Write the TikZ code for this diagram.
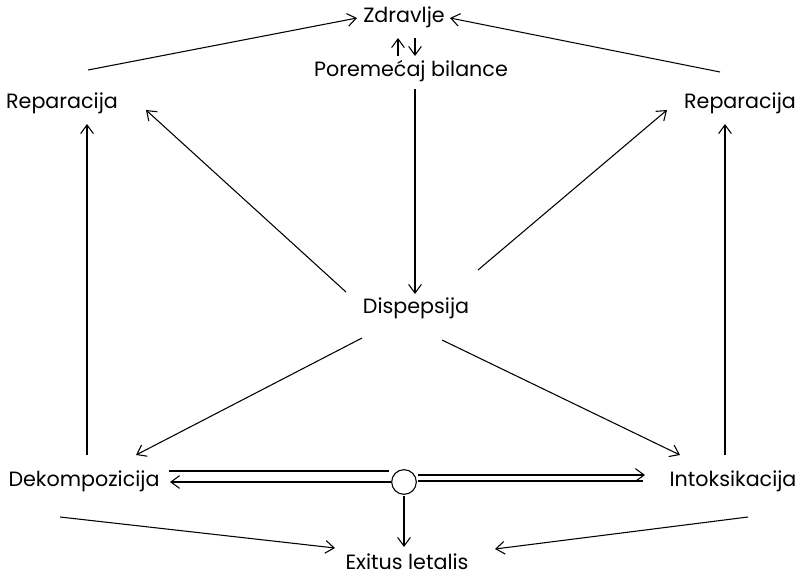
\documentclass[tikz,border=0pt]{standalone}
\usepackage{fontspec}
\setmainfont{Poppins}
\usetikzlibrary{arrows.meta}
\begin{document}
\begin{tikzpicture}[x=0.75pt,y=-0.75pt,
  lbl/.style={inner sep=0pt,font=\fontsize{15.5}{18}\selectfont},
  arr/.style={-{Straight Barb[length=6.5pt,width=9.5pt,line width=0.8pt]},line width=0.8pt},
  ln/.style={line width=0.8pt}]
\useasboundingbox (0,0) rectangle (797,579);
\node[lbl] (zd) at (404,17) {Zdravlje};
\node[lbl] (pb) at (411,71) {Poremećaj bilance};
\node[lbl] (repL) at (62,103) {Reparacija};
\node[lbl] (repR) at (740,103) {Reparacija};
\node[lbl] (disp) at (416,308) {Dispepsija};
\node[lbl] (dek) at (84,481) {Dekompozicija};
\node[lbl] (intok) at (733,481) {Intoksikacija};
\node[draw,circle,ln,minimum size=18.5pt,inner sep=0pt] (circ) at (404,482) {};
\node[lbl] (exit) at (407,562) {Exitus letalis};
% top
\draw[arr] (88,70) -- (357,18);
\draw[arr] (720,72) -- (450,18);
\draw[arr] (398,56) -- (398,38);
\draw[arr] (415,38) -- (415,56);
\draw[arr] (415,89) -- (415,294);
% middle
\draw[arr] (346,292) -- (146,110);
\draw[arr] (478,270) -- (667,110);
\draw[arr] (87,455) -- (87,124);
\draw[arr] (725,455) -- (725,124);
\draw[arr] (362,338) -- (136,455);
\draw[arr] (442,340) -- (680,455);
% circle
\draw[ln] (389,471) -- (169,471);
\draw[arr] (391,482) -- (170,482);
\draw[arr] (418,475) -- (645,475);
\draw[ln] (418,481) -- (643,481);
\draw[arr] (404,496) -- (404,547);
\draw[arr] (60,517) -- (335,548);
\draw[arr] (748,517) -- (495,549);
\end{tikzpicture}
\end{document}
